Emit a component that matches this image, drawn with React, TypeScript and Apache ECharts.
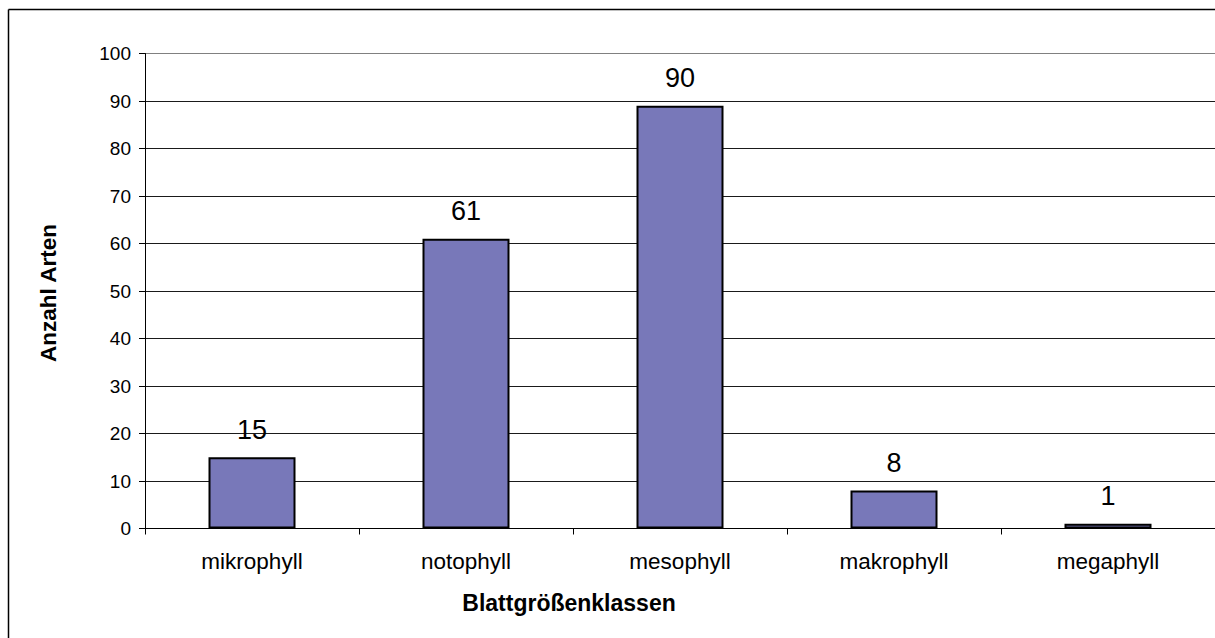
import React, { useEffect, useRef } from "react";
import * as echarts from "echarts";

const categories = ["mikrophyll", "notophyll", "mesophyll", "makrophyll", "megaphyll"];
const values = [15, 61, 89, 8, 1];
const valueLabels = ["15", "61", "90", "8", "1"];
const yTicks = { min: 0, max: 100, interval: 10 };
const xTitle = "Blattgrößenklassen";
const yTitle = "Anzahl Arten";

const FONT = "'Liberation Sans', Arial, sans-serif";

export default function App() {
  const ref = useRef<HTMLDivElement>(null);
  useEffect(() => {
    if (!ref.current) return;
    const chart = echarts.init(ref.current, undefined, { renderer: "svg" });
    const splitColors = Array.from({ length: 11 }, (_, i) => (i === 10 ? "#808080" : "#1a1a1a"));
    chart.setOption({
      animation: false,
      backgroundColor: "#ffffff",
      grid: { left: 145, top: 53.5, width: 1072, height: 475, containLabel: false },
      xAxis: {
        type: "category",
        data: categories,
        boundaryGap: true,
        axisLine: { show: true, lineStyle: { color: "#000", width: 1 } },
        axisTick: { show: true, length: 6, lineStyle: { color: "#000" } },
        axisLabel: { color: "#000", fontSize: 22.5, fontFamily: FONT, margin: 21 },
      },
      yAxis: {
        type: "value",
        min: yTicks.min,
        max: yTicks.max,
        interval: yTicks.interval,
        axisLine: { show: true, lineStyle: { color: "#000", width: 1 } },
        axisTick: { show: true, length: 6, lineStyle: { color: "#000" } },
        axisLabel: { color: "#000", fontSize: 19, fontFamily: FONT, margin: 14 },
        splitLine: { show: true, lineStyle: { color: splitColors, width: 1 } },
      },
      series: [
        {
          type: "bar",
          data: values,
          barWidth: 87,
          itemStyle: { color: "#7878b9", borderColor: "#000", borderWidth: 2 },
          label: {
            show: true,
            position: "top",
            distance: 14,
            color: "#000",
            fontSize: 27,
            fontFamily: FONT,
            formatter: (p: any) => valueLabels[p.dataIndex],
          },
        },
      ],
      graphic: [
        {
          type: "line",
          shape: { x1: 8.5, y1: 9.5, x2: 8.5, y2: 700 },
          style: { stroke: "#000", lineWidth: 1.5 },
          silent: true,
        },
        {
          type: "line",
          shape: { x1: 8.5, y1: 9.5, x2: 1300, y2: 9.5 },
          style: { stroke: "#000", lineWidth: 1.5 },
          silent: true,
        },
        {
          type: "text",
          x: 569,
          y: 603,
          style: {
            text: xTitle,
            fontSize: 23,
            fontWeight: "bold",
            fontFamily: FONT,
            fill: "#000",
            align: "center",
            verticalAlign: "middle",
          },
        },
        {
          type: "text",
          x: 48,
          y: 293,
          rotation: Math.PI / 2,
          style: {
            text: yTitle,
            fontSize: 22.5,
            fontWeight: "bold",
            fontFamily: FONT,
            fill: "#000",
            align: "center",
            verticalAlign: "middle",
          },
        },
      ],
    });
    return () => chart.dispose();
  }, []);
  return (
    <div
      ref={ref}
      style={{ position: "fixed", left: 0, top: 0, width: 1215, height: 638, background: "#fff" }}
    />
  );
}
